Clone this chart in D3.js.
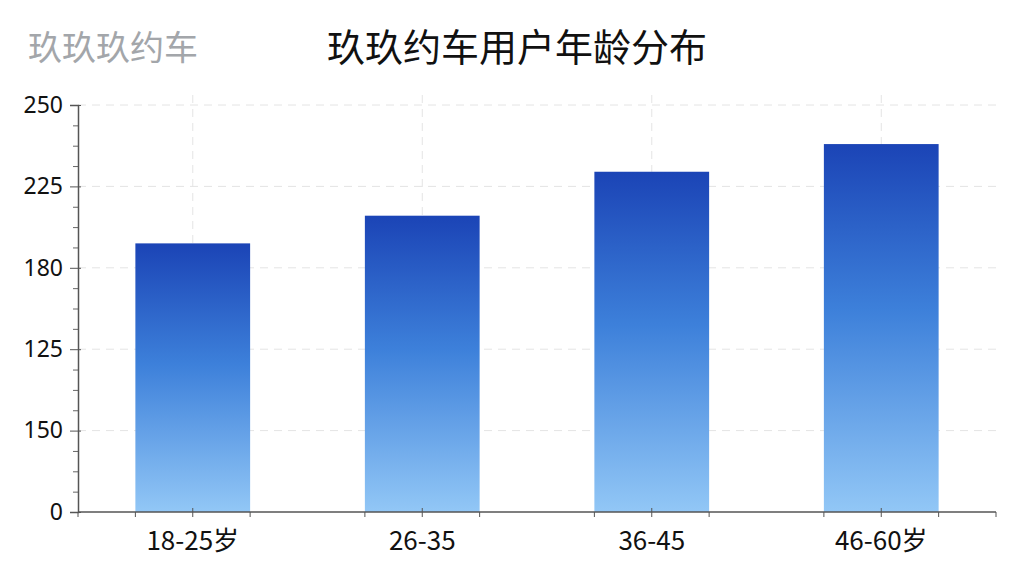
<!DOCTYPE html>
<html>
<head>
<meta charset="utf-8">
<script src="https://cdn.jsdelivr.net/npm/d3@7"></script>
<style>
  body { margin: 0; background: #fff; }
  text { font-family: "Noto Sans CJK SC", "Noto Sans", sans-serif; }
</style>
</head>
<body>
<div id="bar-chart"></div>
<script>
// data
const categories = ["18-25岁", "26-35", "36-45", "46-60岁"];
const users = [165, 182, 209, 226];
const yTickValues = [0, 50, 100, 150, 200, 250];
const yTickLabels = ["0", "150", "125", "180", "225", "250"];

const W = 1024, H = 576;
const margin = { top: 105, right: 28, bottom: 64, left: 78 };
const width = W - margin.left - margin.right;
const height = H - margin.top - margin.bottom;

const svg = d3.select("#bar-chart")
  .append("svg")
  .attr("width", W)
  .attr("height", H);

// gradient for bars
const grad = svg.append("defs").append("linearGradient")
  .attr("id", "barGrad")
  .attr("x1", 0).attr("y1", 0).attr("x2", 0).attr("y2", 1);
grad.append("stop").attr("offset", "0%").attr("stop-color", "#1b44b6");
grad.append("stop").attr("offset", "45%").attr("stop-color", "#3d80da");
grad.append("stop").attr("offset", "100%").attr("stop-color", "#92c7f6");

// titles
svg.append("text")
  .attr("x", 28).attr("y", 60)
  .attr("font-size", 34)
  .attr("fill", "#a3a6aa")
  .text("玖玖玖约车");

svg.append("text")
  .attr("x", 517).attr("y", 61)
  .attr("text-anchor", "middle")
  .attr("font-size", 38)
  .attr("fill", "#111")
  .text("玖玖约车用户年龄分布");

const g = svg.append("g")
  .attr("transform", `translate(${margin.left}, ${margin.top})`);

// scales
const x = d3.scaleBand()
  .domain(categories)
  .range([0, width])
  .paddingInner(0.5)
  .paddingOuter(0.25);

const y = d3.scaleLinear()
  .domain([0, 250])
  .range([height, 0]);

// grid lines
g.append("g")
  .selectAll("line")
  .data(yTickValues.slice(1))
  .enter().append("line")
  .attr("x1", 0).attr("x2", width)
  .attr("y1", d => y(d)).attr("y2", d => y(d))
  .attr("stroke", "#e4e4e4")
  .attr("stroke-dasharray", "8,6");

g.append("g")
  .selectAll("line")
  .data(categories)
  .enter().append("line")
  .attr("x1", d => x(d) + x.bandwidth() / 2)
  .attr("x2", d => x(d) + x.bandwidth() / 2)
  .attr("y1", -10).attr("y2", height)
  .attr("stroke", "#e4e4e4")
  .attr("stroke-dasharray", "8,6");

// bars
g.selectAll(".bar")
  .data(users)
  .enter().append("rect")
  .attr("class", "bar")
  .attr("x", (d, i) => x(categories[i]))
  .attr("y", d => y(d))
  .attr("width", x.bandwidth())
  .attr("height", d => height - y(d))
  .attr("fill", "url(#barGrad)");

// y axis: minor ticks then major
const minor = d3.range(0, 251, 12.5).filter(v => v % 50 !== 0);
g.append("g")
  .call(d3.axisLeft(y).tickValues(minor).tickSize(5).tickFormat(""))
  .call(a => a.select(".domain").remove())
  .selectAll("line").attr("stroke", "#666");

const yAxis = g.append("g")
  .call(d3.axisLeft(y).tickValues(yTickValues).tickSize(8).tickPadding(8)
    .tickFormat((d, i) => yTickLabels[i]));
yAxis.select(".domain").attr("stroke", "#555").attr("stroke-width", 1.5);
yAxis.selectAll(".tick line").attr("stroke", "#555").attr("x2", 3).attr("x1", -8);
yAxis.selectAll("text").attr("font-size", 23).attr("fill", "#111")
  .attr("x", -15)
  .style("font-family", '"Noto Sans", sans-serif');

// x axis with ticks at band edges and centers
const xTicks = [0];
categories.forEach(c => {
  xTicks.push(x(c), x(c) + x.bandwidth() / 2, x(c) + x.bandwidth());
});
xTicks.push(width);

const xAxis = g.append("g")
  .attr("transform", `translate(0, ${height})`);
xAxis.append("line")
  .attr("x1", 0).attr("x2", width)
  .attr("stroke", "#555").attr("stroke-width", 1.5);
xAxis.selectAll(".xt")
  .data(xTicks)
  .enter().append("line")
  .attr("class", "xt")
  .attr("x1", d => d).attr("x2", d => d)
  .attr("y1", (d, i) => (i % 3 === 2 ? -4 : 0))
  .attr("y2", 5)
  .attr("stroke", "#555");

xAxis.selectAll(".xl")
  .data(categories)
  .enter().append("text")
  .attr("class", "xl")
  .attr("x", d => x(d) + x.bandwidth() / 2)
  .attr("y", 38)
  .attr("text-anchor", "middle")
  .attr("font-size", 26)
  .attr("fill", "#111")
  .text(d => d);
</script>
</body>
</html>
